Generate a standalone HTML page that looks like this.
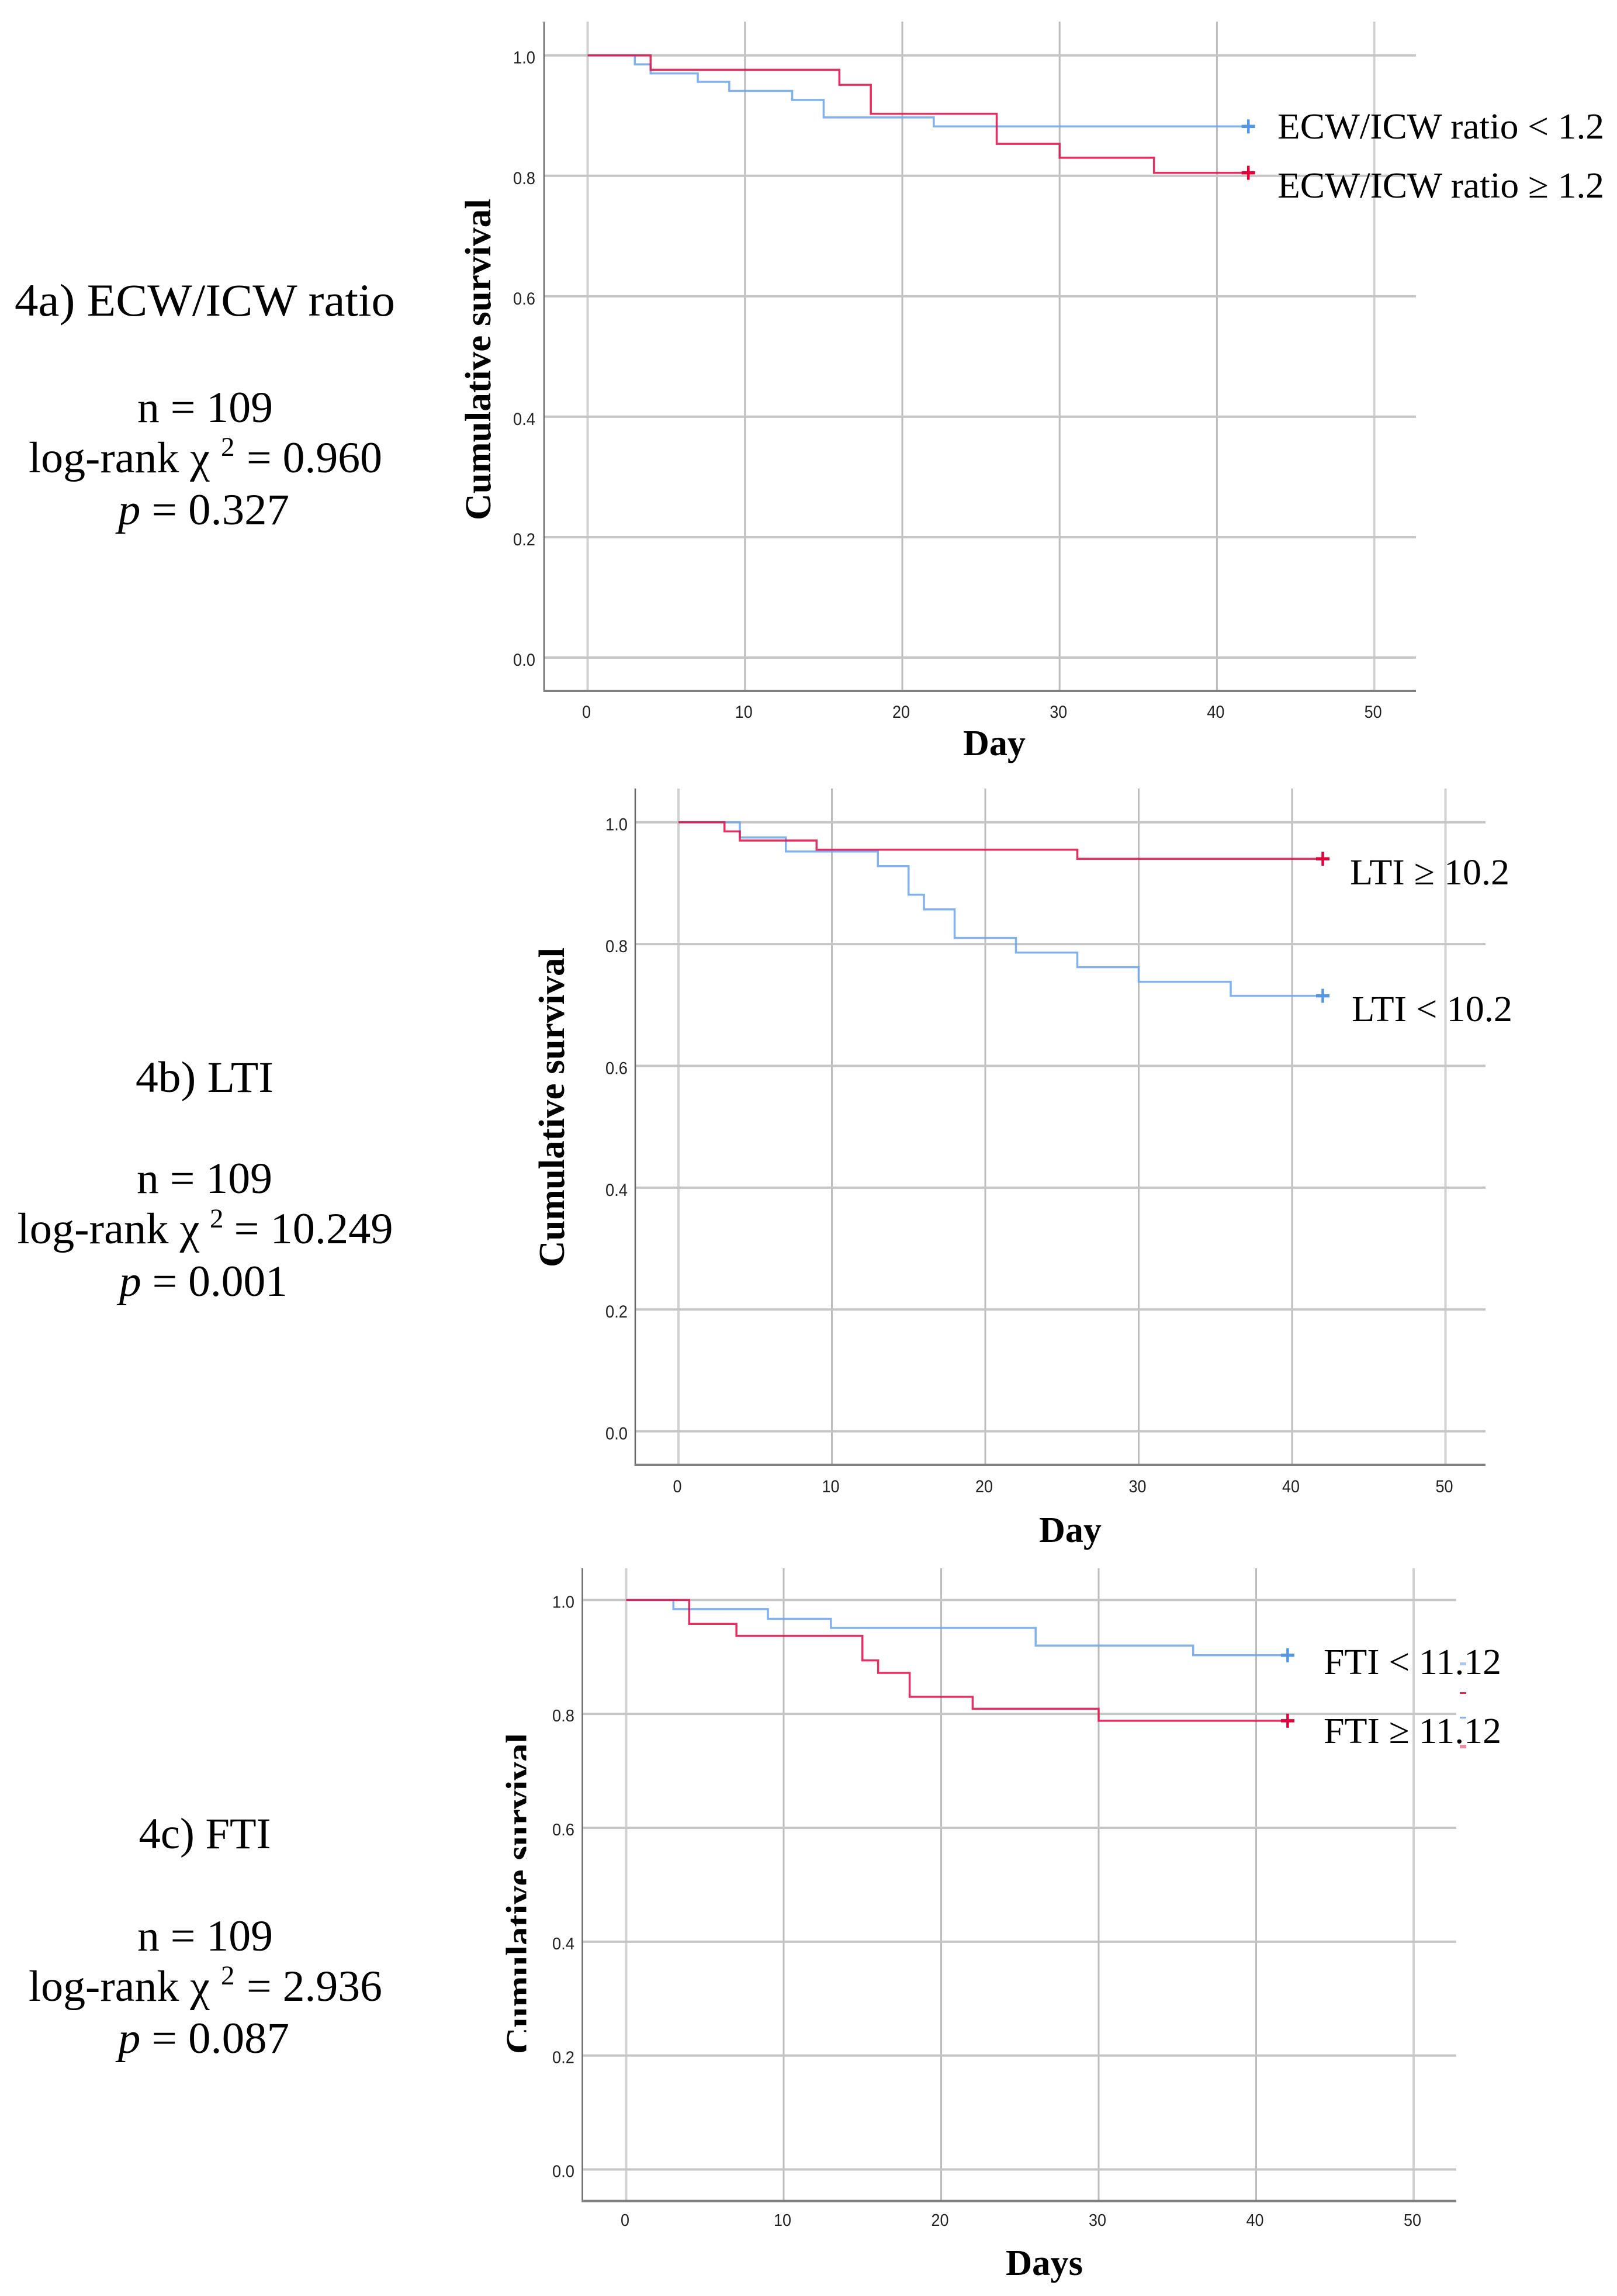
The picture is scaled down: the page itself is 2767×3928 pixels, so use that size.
<!DOCTYPE html>
<html lang="en">
<head>
<meta charset="utf-8">
<title>Kaplan-Meier survival curves: ECW/ICW ratio, LTI and FTI</title>
<style>
html,body{margin:0;padding:0;background:#fff;}
body{width:2767px;height:3928px;overflow:hidden;}
svg{display:block;}
.serif{font-family:"Liberation Serif",serif;fill:#000;}
.note{font-size:75px;}
.legend{font-size:62px;}
.axis-title{font-size:62px;font-weight:bold;}
.tick{font-family:"Liberation Sans",sans-serif;fill:#222;}
</style>
</head>
<body>
<svg id="figure" xmlns="http://www.w3.org/2000/svg" width="2767" height="3928" viewBox="0 0 2767 3928">
  <defs>
    <clipPath id="clip-title-c"><rect x="850" y="2900" width="50.5" height="650"/></clipPath>
  </defs>
  <rect width="2767" height="3928" fill="#fff"/>

  <g id="chart-a"></g>
  <g id="chart-b"></g>
  <g id="chart-c"></g>

  <!-- Panel a annotation -->
  <g>
    <text class="serif" font-size="78" x="25" y="540" textLength="651" lengthAdjust="spacingAndGlyphs">4a) ECW/ICW ratio</text>
    <text class="serif note" x="235" y="722" textLength="232" lengthAdjust="spacingAndGlyphs">n = 109</text>
    <text class="serif note" x="49" y="808" textLength="310" lengthAdjust="spacingAndGlyphs">log-rank χ</text>
    <text class="serif" x="378" y="780" font-size="47">2</text>
    <text class="serif note" x="422" y="808" textLength="232" lengthAdjust="spacingAndGlyphs">= 0.960</text>
    <text class="serif note" x="202" y="897" textLength="293" lengthAdjust="spacingAndGlyphs"><tspan font-style="italic">p</tspan> = 0.327</text>
  </g>

  <!-- Panel b annotation -->
  <g>
    <text class="serif note" x="232" y="1868" textLength="236" lengthAdjust="spacingAndGlyphs">4b) LTI</text>
    <text class="serif note" x="234" y="2041" textLength="232" lengthAdjust="spacingAndGlyphs">n = 109</text>
    <text class="serif note" x="29.5" y="2127" textLength="312" lengthAdjust="spacingAndGlyphs">log-rank χ</text>
    <text class="serif" x="359" y="2100" font-size="47">2</text>
    <text class="serif note" x="400.5" y="2127" textLength="272" lengthAdjust="spacingAndGlyphs">= 10.249</text>
    <text class="serif note" x="204" y="2217" textLength="288" lengthAdjust="spacingAndGlyphs"><tspan font-style="italic">p</tspan> = 0.001</text>
  </g>

  <!-- Panel c annotation -->
  <g>
    <text class="serif note" x="237.5" y="3162" textLength="226" lengthAdjust="spacingAndGlyphs">4c) FTI</text>
    <text class="serif note" x="235" y="3337" textLength="232" lengthAdjust="spacingAndGlyphs">n = 109</text>
    <text class="serif note" x="49" y="3423" textLength="310" lengthAdjust="spacingAndGlyphs">log-rank χ</text>
    <text class="serif" x="378" y="3395" font-size="47">2</text>
    <text class="serif note" x="422" y="3423" textLength="232" lengthAdjust="spacingAndGlyphs">= 2.936</text>
    <text class="serif note" x="202" y="3512" textLength="293" lengthAdjust="spacingAndGlyphs"><tspan font-style="italic">p</tspan> = 0.087</text>
  </g>

  <!-- Axis titles -->
  <text class="serif axis-title" transform="translate(839,890) rotate(-90)" textLength="550" lengthAdjust="spacingAndGlyphs">Cumulative survival</text>
  <text class="serif axis-title" x="1648" y="1292" textLength="107" lengthAdjust="spacingAndGlyphs">Day</text>
  <text class="serif axis-title" transform="translate(965,2168) rotate(-90)" textLength="547" lengthAdjust="spacingAndGlyphs">Cumulative survival</text>
  <text class="serif axis-title" x="1778" y="2638" textLength="107" lengthAdjust="spacingAndGlyphs">Day</text>
  <g clip-path="url(#clip-title-c)">
    <text class="serif axis-title" transform="translate(909,3514) rotate(-90)" textLength="549" lengthAdjust="spacingAndGlyphs">Cumulative survival</text>
  </g>
  <text class="serif axis-title" x="1721" y="3892" textLength="132" lengthAdjust="spacingAndGlyphs">Days</text>

  <!-- Direct legends -->
  <text class="serif legend" x="2186" y="237" textLength="559" lengthAdjust="spacingAndGlyphs">ECW/ICW ratio &lt; 1.2</text>
  <text class="serif legend" x="2186" y="338" textLength="559" lengthAdjust="spacingAndGlyphs">ECW/ICW ratio ≥ 1.2</text>
  <text class="serif legend" x="2310" y="1513" textLength="273" lengthAdjust="spacingAndGlyphs">LTI ≥ 10.2</text>
  <text class="serif legend" x="2313" y="1747" textLength="275" lengthAdjust="spacingAndGlyphs">LTI &lt; 10.2</text>
  <text class="serif legend" x="2265" y="2864" textLength="304" lengthAdjust="spacingAndGlyphs">FTI &lt; 11.12</text>
  <text class="serif legend" x="2265" y="2982" textLength="304" lengthAdjust="spacingAndGlyphs">FTI ≥ 11.12</text>

  <!-- Remnants of the original legend swatches visible through panel c -->
  <rect x="2498" y="2844" width="11" height="5" fill="#a8c9f2"/>
  <rect x="2498" y="2895" width="11" height="3" fill="#e2284f"/>
  <rect x="2498" y="2937" width="11" height="3" fill="#7fb1ee"/>
  <rect x="2498" y="2985" width="11" height="6" fill="#f08aa2"/>
</svg>

<script>
// Shared axis ticks
const xTickValues = [0, 10, 20, 30, 40, 50];
const yTickValues = [0, 0.2, 0.4, 0.6, 0.8, 1];
const yTickLabels = ['0.0', '0.2', '0.4', '0.6', '0.8', '1.0'];

// Panel a: ECW/ICW ratio
const ecwLowDays = [0, 3, 4, 7, 9, 13, 15, 22, 42];
const ecwLowSurvival = [1, 0.985, 0.970, 0.956, 0.941, 0.926, 0.897, 0.882, 0.882];
const ecwHighDays = [0, 4, 16, 18, 26, 30, 36, 42];
const ecwHighSurvival = [1, 0.976, 0.951, 0.903, 0.853, 0.830, 0.805, 0.805];

// Panel b: LTI
const ltiLowDays = [0, 4, 7, 13, 15, 16, 18, 22, 26, 30, 36, 42];
const ltiLowSurvival = [1, 0.975, 0.952, 0.928, 0.881, 0.857, 0.810, 0.786, 0.762, 0.738, 0.715, 0.715];
const ltiHighDays = [0, 3, 4, 9, 26, 42];
const ltiHighSurvival = [1, 0.985, 0.970, 0.955, 0.940, 0.940];

// Panel c: FTI
const ftiLowDays = [0, 3, 9, 13, 26, 36, 42];
const ftiLowSurvival = [1, 0.984, 0.967, 0.951, 0.920, 0.903, 0.903];
const ftiHighDays = [0, 4, 7, 15, 16, 18, 22, 30, 42];
const ftiHighSurvival = [1, 0.958, 0.937, 0.894, 0.872, 0.830, 0.809, 0.788, 0.788];

const SVG_NS = 'http://www.w3.org/2000/svg';

function makeEl(parent, tag, attrs) {
  const el = document.createElementNS(SVG_NS, tag);
  for (const k in attrs) el.setAttribute(k, attrs[k]);
  parent.appendChild(el);
  return el;
}

function drawChart(id, frame, series) {
  const root = document.getElementById(id);
  const xScale = d => frame.x0 + d * frame.dayPx;
  const yScale = s => frame.y0 - s * frame.unitPx;

  // vertical grid
  xTickValues.forEach(function (v) {
    const edge = v === 0 || v === 50;
    const g = makeEl(root, 'line', {
      x1: xScale(v), x2: xScale(v), y1: frame.top, y2: frame.bottom,
      stroke: edge ? '#d2d2d2' : '#bcbcbc', 'stroke-width': edge ? 4 : 3
    });
    
    

    const t = makeEl(root, 'text', {
      class: 'tick', x: xScale(v) - 2, y: frame.xLabelY, 'text-anchor': 'middle',
      'font-size': frame.tickFont, textLength: v === 0 ? 15 : 30, lengthAdjust: 'spacingAndGlyphs'
    });
    t.textContent = String(v);
    
    
  });

  // horizontal grid
  yTickValues.forEach(function (v, i) {
    const g = makeEl(root, 'line', {
      x1: frame.axisX, x2: frame.right, y1: yScale(v), y2: yScale(v),
      stroke: '#c6c6c6', 'stroke-width': 4
    });
    
    

    const t = makeEl(root, 'text', {
      class: 'tick', x: frame.yLabelRight, y: yScale(v) + frame.yLabelDrop, 'text-anchor': 'end',
      'font-size': frame.tickFont, textLength: 38, lengthAdjust: 'spacingAndGlyphs'
    });
    t.textContent = yTickLabels[i];
    
    
  });

  // axes
  const yAxis = makeEl(root, 'line', {
    x1: frame.axisX, x2: frame.axisX, y1: frame.top, y2: frame.bottom + 2,
    stroke: '#6a6a6a', 'stroke-width': 2.5
  });
  
  

  const xAxis = makeEl(root, 'line', {
    x1: frame.axisX - 1, x2: frame.right, y1: frame.bottom, y2: frame.bottom,
    stroke: '#808080', 'stroke-width': 4
  });
  
  

  // survival steps
  series.forEach(function (s) {
    let d = 'M' + xScale(s.days[0]) + ' ' + yScale(s.values[0]);
    for (let i = 1; i < s.days.length; i++) {
      d += 'H' + xScale(s.days[i]) + 'V' + yScale(s.values[i]);
    }
    const p = makeEl(root, 'path', {
      d: d, fill: 'none', stroke: s.line, 'stroke-width': 3.5,
      'stroke-opacity': 0.88, 'stroke-linejoin': 'miter'
    });
    
    

    const last = s.days.length - 1;
    const cx = xScale(s.days[last]);
    const cy = yScale(s.values[last]);
    const h = makeEl(root, 'line', { x1: cx - 11.5, x2: cx + 11.5, y1: cy, y2: cy, stroke: s.mark, 'stroke-width': 5.5 });
    
    
    const v = makeEl(root, 'line', { x1: cx, x2: cx, y1: cy - 12, y2: cy + 12, stroke: s.mark, 'stroke-width': 4.5 });
    
    
  });
}

const BLUE = '#6fa6ec', BLUE_MARK = '#5596e6', RED = '#e0124a', RED_MARK = '#e0003a';

drawChart('chart-a',
  { x0: 1005.6, dayPx: 26.92, y0: 1125, unitPx: 1030.3, top: 37, bottom: 1182, axisX: 931, right: 2423,
    xLabelY: 1228, yLabelRight: 916, yLabelDrop: 14, tickFont: 30 },
  [
    { name: 'ecw-low', days: ecwLowDays, values: ecwLowSurvival, line: BLUE, mark: BLUE_MARK },
    { name: 'ecw-high', days: ecwHighDays, values: ecwHighSurvival, line: RED, mark: RED_MARK }
  ]);

drawChart('chart-b',
  { x0: 1161, dayPx: 26.25, y0: 2448.6, unitPx: 1041.9, top: 1349, bottom: 2506, axisX: 1087, right: 2542,
    xLabelY: 2553, yLabelRight: 1074, yLabelDrop: 14, tickFont: 30 },
  [
    { name: 'lti-low', days: ltiLowDays, values: ltiLowSurvival, line: BLUE, mark: BLUE_MARK },
    { name: 'lti-high', days: ltiHighDays, values: ltiHighSurvival, line: RED, mark: RED_MARK }
  ]);

drawChart('chart-c',
  { x0: 1071.5, dayPx: 26.95, y0: 3711.5, unitPx: 974.2, top: 2683, bottom: 3765.5, axisX: 996.5, right: 2492,
    xLabelY: 3808, yLabelRight: 983, yLabelDrop: 13, tickFont: 28.5 },
  [
    { name: 'fti-low', days: ftiLowDays, values: ftiLowSurvival, line: BLUE, mark: BLUE_MARK },
    { name: 'fti-high', days: ftiHighDays, values: ftiHighSurvival, line: RED, mark: RED_MARK }
  ]);
</script>
</body>
</html>
